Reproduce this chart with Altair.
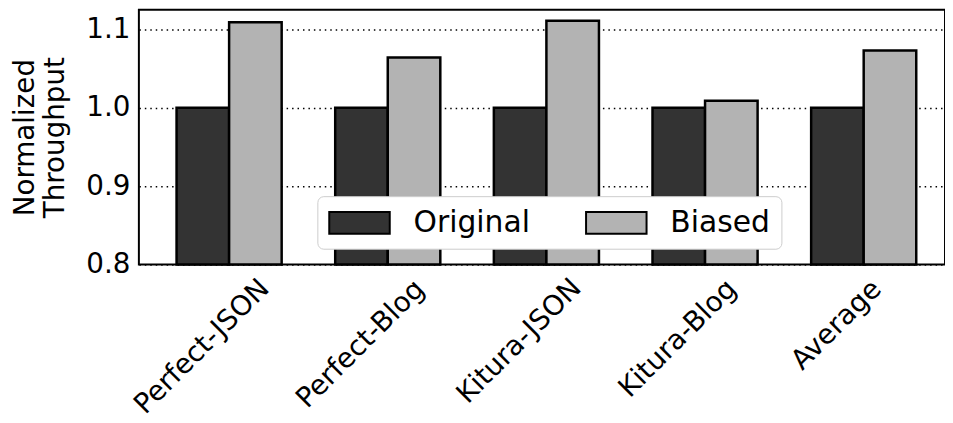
import altair as alt
import pandas as pd

categories = ["Perfect-JSON", "Perfect-Blog", "Kitura-JSON", "Kitura-Blog", "Average"]
series = ["Original", "Biased"]
original = [1.0, 1.0, 1.0, 1.0, 1.0]
biased = [1.109, 1.064, 1.111, 1.009, 1.073]
colors = ["#333333", "#b3b3b3"]
y_ticks = [0.8, 0.9, 1.0, 1.1]

FONT = "DejaVu Sans"
FS = 28
LEG_FS = 30

rows = []
for i, c in enumerate(categories):
    rows.append({"category": c, "series": series[0], "value": original[i]})
    rows.append({"category": c, "series": series[1], "value": biased[i]})
df = pd.DataFrame(rows)

# approximate DejaVu Sans advance widths (em) for label layout
ADV = {"P": .603, "e": .615, "r": .411, "f": .352, "c": .550, "t": .392, "-": .361,
       "J": .295, "S": .635, "O": .787, "N": .748, "B": .686, "l": .278, "o": .612,
       "g": .635, "K": .656, "i": .278, "u": .634, "a": .613, "A": .684, "v": .592}


def text_w(s):
    return sum(ADV.get(ch, 0.6) for ch in s) * FS


H = 1.17 * FS
pad_expr = ""
for c in categories[:-1]:
    pad_expr += f"datum.label == '{c}' ? {8 + 0.3535 * (text_w(c) + H):.1f} : "
pad_expr += f"{8 + 0.3535 * (text_w(categories[-1]) + H):.1f}"

sym_px = LEG_FS  # row height
r = sym_px / 2
path = f"M-1,{-11 / r:.3f}H{61 / r - 1:.3f}V{11 / r:.3f}H-1Z"

bars = alt.Chart(df).mark_bar(stroke="black", strokeWidth=2.5, opacity=1).encode(
    x=alt.X(
        "category:N",
        sort=categories,
        scale=alt.Scale(range=[0, 822], paddingInner=0.3375, paddingOuter=0.2375),
        axis=alt.Axis(
            title=None,
            labelAngle=-45,
            labelAlign="center",
            labelBaseline="middle",
            labelOffset=-27,
            labelPadding=alt.ExprRef(expr=pad_expr),
            labelFontSize=FS,
            labelFont=FONT,
            labelColor="black",
            ticks=False,
            domain=False,
            grid=False,
        ),
    ),
    xOffset=alt.XOffset("series:N", sort=series, scale=alt.Scale(paddingInner=0, paddingOuter=0)),
    y=alt.Y(
        "value:Q",
        scale=alt.Scale(domain=[0.8, 1.125], zero=False, nice=False),
        axis=alt.Axis(
            title=["Normalized", "Throughput"],
            titleFontSize=28,
            titleFont=FONT,
            titleFontWeight="normal",
            titleColor="black",
            titlePadding=16,
            titleLineHeight=31,
            values=y_ticks,
            format=".1f",
            labelFontSize=FS,
            labelFont=FONT,
            labelColor="black",
            labelPadding=9,
            ticks=False,
            domain=False,
            grid=True,
            gridColor="black",
            gridDash=[1.5, 4],
            gridWidth=1.5,
        ),
    ),
    y2=alt.datum(0.8),
    color=alt.Color(
        "series:N",
        sort=series,
        scale=alt.Scale(domain=series, range=colors),
        legend=alt.Legend(
            title=None,
            orient="none",
            legendX=180,
            legendY=188,
            direction="horizontal",
            fillColor="white",
            strokeColor="#cccccc",
            cornerRadius=6,
            padding=11,
            symbolType=path,
            symbolSize=sym_px * sym_px,
            symbolStrokeColor="black",
            symbolStrokeWidth=2,
            symbolOpacity=1,
            labelFontSize=LEG_FS,
            labelFont=FONT,
            labelColor="black",
            labelOffset=84 - sym_px,
            columnPadding=52,
        ),
    ),
)

chart = bars.properties(
    width=813,
    height=257,
    autosize=alt.AutoSizeParams(type="none"),
    padding={"left": 132, "top": 0, "right": 0, "bottom": 158},
).configure(font=FONT).configure_view(stroke="black", strokeWidth=2)

chart.save("out.html", embed_options={"renderer": "svg", "actions": False})
